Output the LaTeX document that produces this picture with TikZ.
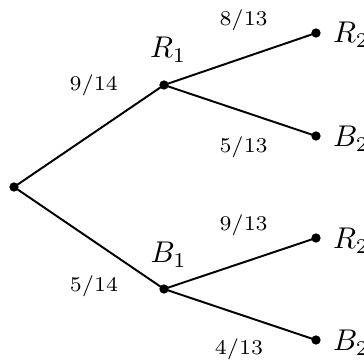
\documentclass[tikz,border=0pt]{standalone}
\begin{document}
\begin{tikzpicture}[x=0.33333pt,y=-0.33333pt,
  dot/.style={circle,fill=black,inner sep=0pt,minimum size=3.1pt},
  branch/.style={line width=0.65pt},
  lab/.style={inner sep=0pt,anchor=base west},
  prob/.style={inner sep=0pt,anchor=base,font=\scriptsize}]
\useasboundingbox (0,0) rectangle (364,359);
\node[dot] (o) at (14,187) {};
\node[dot] (r1) at (164,85) {};
\node[dot] (b1) at (164,289) {};
\node[dot] (r2a) at (316,33) {};
\node[dot] (b2a) at (316,136) {};
\node[dot] (r2b) at (316,238) {};
\node[dot] (b2b) at (316,340) {};
\draw[branch] (o.center) -- (r1.center);
\draw[branch] (o.center) -- (b1.center);
\draw[branch] (r1.center) -- (r2a.center);
\draw[branch] (r1.center) -- (b2a.center);
\draw[branch] (b1.center) -- (r2b.center);
\draw[branch] (b1.center) -- (b2b.center);
\node[lab] (lr1) at (149.5,57.5) {$R_1$};
\node[lab] (lb1) at (150,262.5) {$B_1$};
\node[lab] (lr2a) at (332.5,42.5) {$R_2$};
\node[lab] (lb2a) at (332.5,146.7) {$B_2$};
\node[lab] (lr2b) at (332.5,248.7) {$R_2$};
\node[lab] (lb2b) at (332.5,350.7) {$B_2$};
\node[prob] (p1) at (93.7,90.7) {$9/14$};
\node[prob] (p2) at (94,291.7) {$5/14$};
\node[prob] (p3) at (243.6,25.7) {$8/13$};
\node[prob] (p4) at (243.6,152.7) {$5/13$};
\node[prob] (p5) at (243.6,230.7) {$9/13$};
\node[prob] (p6) at (239,354.7) {$4/13$};
\end{tikzpicture}
\end{document}
